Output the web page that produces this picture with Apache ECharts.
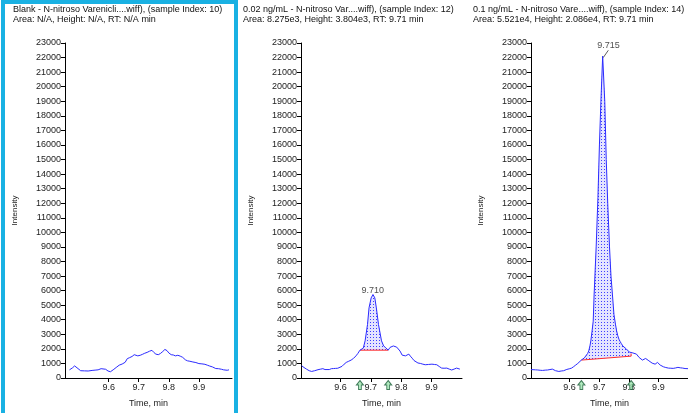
<!DOCTYPE html>
<html><head><meta charset="utf-8">
<script src="https://cdn.jsdelivr.net/npm/echarts@6/dist/echarts.min.js"></script>
<style>html,body{margin:0;padding:0;background:#fff}#c{width:688px;height:413px}</style>
</head><body><div id="c"></div>
<script>
// ---------- data ----------
const panelTitles = [
  'Blank - N-nitroso Varenicli....wiff), (sample Index: 10)\nArea: N/A, Height: N/A, RT: N/A min',
  '0.02 ng/mL - N-nitroso Var....wiff), (sample Index: 12)\nArea: 8.275e3, Height: 3.804e3, RT: 9.71 min',
  '0.1 ng/mL - N-nitroso Vare....wiff), (sample Index: 14)\nArea: 5.521e4, Height: 2.086e4, RT: 9.71 min'
];
const xTickValues = [9.6, 9.7, 9.8, 9.9];
const xRanges = [[9.455, 10.01], [9.47, 10.0], [9.47, 10.0]];
const yRange = [0, 23000];

const p1Trace = [[9.47,560],[9.48,700],[9.487,830],[9.495,700],[9.507,500],[9.52,490],[9.532,480],[9.545,520],[9.555,540],[9.565,560],[9.575,640],[9.581,700],[9.59,600],[9.598,480],[9.606,430],[9.615,560],[9.625,720],[9.635,880],[9.645,960],[9.655,1080],[9.662,1330],[9.67,1400],[9.678,1480],[9.685,1600],[9.69,1560],[9.697,1520],[9.705,1560],[9.712,1620],[9.72,1700],[9.728,1760],[9.736,1840],[9.744,1900],[9.75,1760],[9.757,1640],[9.765,1600],[9.772,1680],[9.78,1820],[9.787,1960],[9.794,1880],[9.8,1720],[9.808,1600],[9.815,1580],[9.822,1520],[9.83,1560],[9.838,1500],[9.846,1420],[9.855,1250],[9.862,1180],[9.87,1150],[9.88,1100],[9.89,1060],[9.9,990],[9.91,970],[9.92,940],[9.928,880],[9.936,820],[9.945,760],[9.956,650],[9.965,640],[9.975,600],[9.982,560],[9.988,500],[9.994,530],[10.0,560]];

const p2Trace = [[9.472,840],[9.48,720],[9.488,610],[9.497,500],[9.505,450],[9.515,500],[9.526,570],[9.535,610],[9.542,640],[9.549,580],[9.555,520],[9.563,580],[9.57,640],[9.577,650],[9.584,660],[9.591,670],[9.597,680],[9.605,800],[9.612,950],[9.619,1070],[9.627,1150],[9.635,1230],[9.643,1350],[9.651,1520],[9.657,1680],[9.664,1910],[9.67,1960],[9.675,2050],[9.681,2550],[9.689,3680],[9.694,4820],[9.701,5500],[9.707,5730],[9.713,5500],[9.718,4820],[9.725,3680],[9.735,2550],[9.742,2200],[9.749,2080],[9.757,1910],[9.763,2100],[9.768,2200],[9.774,2200],[9.779,2150],[9.785,2120],[9.79,2090],[9.796,1850],[9.803,1570],[9.808,1530],[9.814,1520],[9.82,1600],[9.825,1640],[9.83,1500],[9.836,1360],[9.842,1200],[9.847,1070],[9.855,1030],[9.863,1000],[9.871,950],[9.879,910],[9.89,930],[9.901,950],[9.909,930],[9.917,910],[9.925,790],[9.933,680],[9.941,670],[9.95,680],[9.958,610],[9.966,550],[9.974,610],[9.982,680],[9.993,610]];

const p3Trace = [[9.47,580],[9.477,570],[9.485,560],[9.493,550],[9.501,530],[9.509,520],[9.518,540],[9.526,550],[9.534,580],[9.542,610],[9.548,560],[9.553,500],[9.558,470],[9.564,450],[9.572,480],[9.58,500],[9.586,550],[9.591,590],[9.599,630],[9.607,680],[9.614,780],[9.621,890],[9.628,1000],[9.634,1100],[9.64,1230],[9.645,1300],[9.65,1380],[9.656,1500],[9.661,1680],[9.665,1860],[9.669,2200],[9.672,2550],[9.676,3200],[9.68,3900],[9.683,5700],[9.69,9000],[9.696,12400],[9.701,16000],[9.706,19000],[9.712,22100],[9.719,19000],[9.724,15000],[9.729,12000],[9.735,9000],[9.74,7000],[9.745,5700],[9.75,4360],[9.755,3700],[9.759,3230],[9.763,2900],[9.767,2660],[9.771,2500],[9.775,2360],[9.78,2200],[9.786,2090],[9.792,1990],[9.797,1900],[9.802,1780],[9.808,1680],[9.814,1720],[9.819,1750],[9.826,1640],[9.83,1520],[9.835,1410],[9.841,1320],[9.846,1230],[9.852,1290],[9.857,1340],[9.862,1250],[9.868,1180],[9.874,1100],[9.879,1020],[9.884,980],[9.889,950],[9.897,1070],[9.902,980],[9.906,890],[9.912,830],[9.917,770],[9.925,720],[9.934,680],[9.942,670],[9.95,660],[9.958,690],[9.966,730],[9.974,700],[9.982,680],[9.99,650],[10.0,640]];

// integration: [start time, end time], baseline values at start/end
const p2Integration = [9.664, 9.757];
const p2Baseline = [1910, 1910];
const p2Apex = [9.706, 5980];
const p2ApexLabel = '9.710';

const p3Integration = [9.64, 9.808];
const p3Baseline = [1230, 1500];
const p3Apex = [9.732, 22800];
const p3ApexLabel = '9.715';
const p3Leader = [[9.714, 22000], [9.731, 22500]];

// ---------- chart ----------
const FONT = '"Liberation Sans", Arial, sans-serif';
const BLUE = '#2b2bff';

const pc = document.createElement('canvas');
pc.width = 3; pc.height = 3;
const pctx = pc.getContext('2d');
pctx.fillStyle = '#e4e4ff'; pctx.fillRect(0, 0, 3, 3);
pctx.fillStyle = '#3d3dff'; pctx.fillRect(1, 1, 1, 1);

const grids = [
  {left: 65, top: 43, width: 167, height: 340},
  {left: 301, top: 43, width: 161, height: 340},
  {left: 531, top: 43, width: 163, height: 340}
];
const titleX = [13, 243, 473];

const xAxes = grids.map((g, i) => ({
  type: 'value', gridIndex: i, min: xRanges[i][0], max: xRanges[i][1],
  axisLine: {onZero: false, lineStyle: {color: '#000', width: 1}},
  axisTick: {customValues: xTickValues, length: 4, lineStyle: {color: '#000'}},
  axisLabel: {customValues: xTickValues, formatter: v => v.toFixed(1), fontSize: 9, color: '#222', fontFamily: FONT, margin: 5},
  splitLine: {show: false},
  name: 'Time, min', nameLocation: 'middle', nameGap: 21,
  nameTextStyle: {fontSize: 9, color: '#222', fontFamily: FONT}
}));
const yAxes = grids.map((g, i) => ({
  type: 'value', gridIndex: i, min: yRange[0], max: yRange[1], interval: 1000,
  axisLine: {show: true, lineStyle: {color: '#000', width: 1}},
  axisTick: {show: true, length: 4, lineStyle: {color: '#000'}},
  axisLabel: {fontSize: 9, color: '#222', fontFamily: FONT, margin: 4, formatter: v => String(v)},
  splitLine: {show: false},
  name: 'Intensity', nameLocation: 'middle', nameGap: 46,
  nameTextStyle: {fontSize: 8, color: '#222', fontFamily: FONT}
}));

function curve(i, data) {
  return {type: 'line', xAxisIndex: i, yAxisIndex: i, data: data, symbol: 'none',
    lineStyle: {color: BLUE, width: 1}, z: 4, silent: true, animation: false};
}
function peakSeries(i, trace, integ, base, apex, apexLabel) {
  const seg = trace.filter(p => p[0] >= integ[0] - 1e-9 && p[0] <= integ[1] + 1e-9);
  const baseAt = t => base[0] + (base[1] - base[0]) * (t - integ[0]) / (integ[1] - integ[0]);
  return [
    {type: 'custom', xAxisIndex: i, yAxisIndex: i, silent: true, animation: false, z: 2,
      data: [[integ[0], base[0]]],
      renderItem: (params, api) => {
        const top = seg.map(p => api.coord([p[0], p[1]]));
        const bottom = seg.slice().reverse().map(p => api.coord([p[0], baseAt(p[0])]));
        return {type: 'polygon', shape: {points: top.concat(bottom)},
          style: {fill: {image: pc, repeat: 'repeat'}, stroke: null}};
      }},
    {type: 'line', xAxisIndex: i, yAxisIndex: i, symbol: 'none', silent: true, animation: false,
      data: [[integ[0], base[0]], [integ[1], base[1]], [integ[1], seg[seg.length - 1][1]]],
      lineStyle: {color: '#ff2a2a', width: 1}, z: 3},
    {type: 'scatter', xAxisIndex: i, yAxisIndex: i, clip: false, silent: true, animation: false,
      data: [[integ[0], 0], [integ[1], 0]],
      symbol: 'path://M5,0 L10,5 L7,5 L7,10 L3,10 L3,5 L0,5 Z', symbolSize: [7, 9], symbolOffset: [0, 7],
      itemStyle: {color: '#9fe6b0', borderColor: '#1d5e3a', borderWidth: 1}, z: 6},
    {type: 'scatter', xAxisIndex: i, yAxisIndex: i, clip: false, silent: true, animation: false,
      data: [apex], symbolSize: 0,
      label: {show: true, position: 'inside', formatter: apexLabel, fontSize: 9, color: '#222', fontFamily: FONT}, z: 6}
  ];
}

let series = [curve(0, p1Trace), curve(1, p2Trace), curve(2, p3Trace)];
series = series.concat(peakSeries(1, p2Trace, p2Integration, p2Baseline, p2Apex, p2ApexLabel));
series = series.concat(peakSeries(2, p3Trace, p3Integration, p3Baseline, p3Apex, p3ApexLabel));
series.push({type: 'line', xAxisIndex: 2, yAxisIndex: 2, symbol: 'none', silent: true, animation: false, clip: false,
  data: p3Leader, lineStyle: {color: '#333', width: 0.8}, z: 5});

const chart = echarts.init(document.getElementById('c'), null, {renderer: 'canvas'});
chart.setOption({
  backgroundColor: '#fff',
  animation: false,
  grid: grids,
  xAxis: xAxes,
  yAxis: yAxes,
  series: series,
  graphic: [
    {type: 'rect', shape: {x: 3, y: 2, width: 233, height: 430}, style: {fill: null, stroke: '#19b1e3', lineWidth: 4}, silent: true}
  ].concat(panelTitles.map((t, i) => ({
    type: 'text', left: titleX[i], top: 4,
    style: {text: t, fontSize: 9, lineHeight: 10.5, fill: '#111', fontFamily: FONT}, silent: true
  })))
});
</script></body></html>
